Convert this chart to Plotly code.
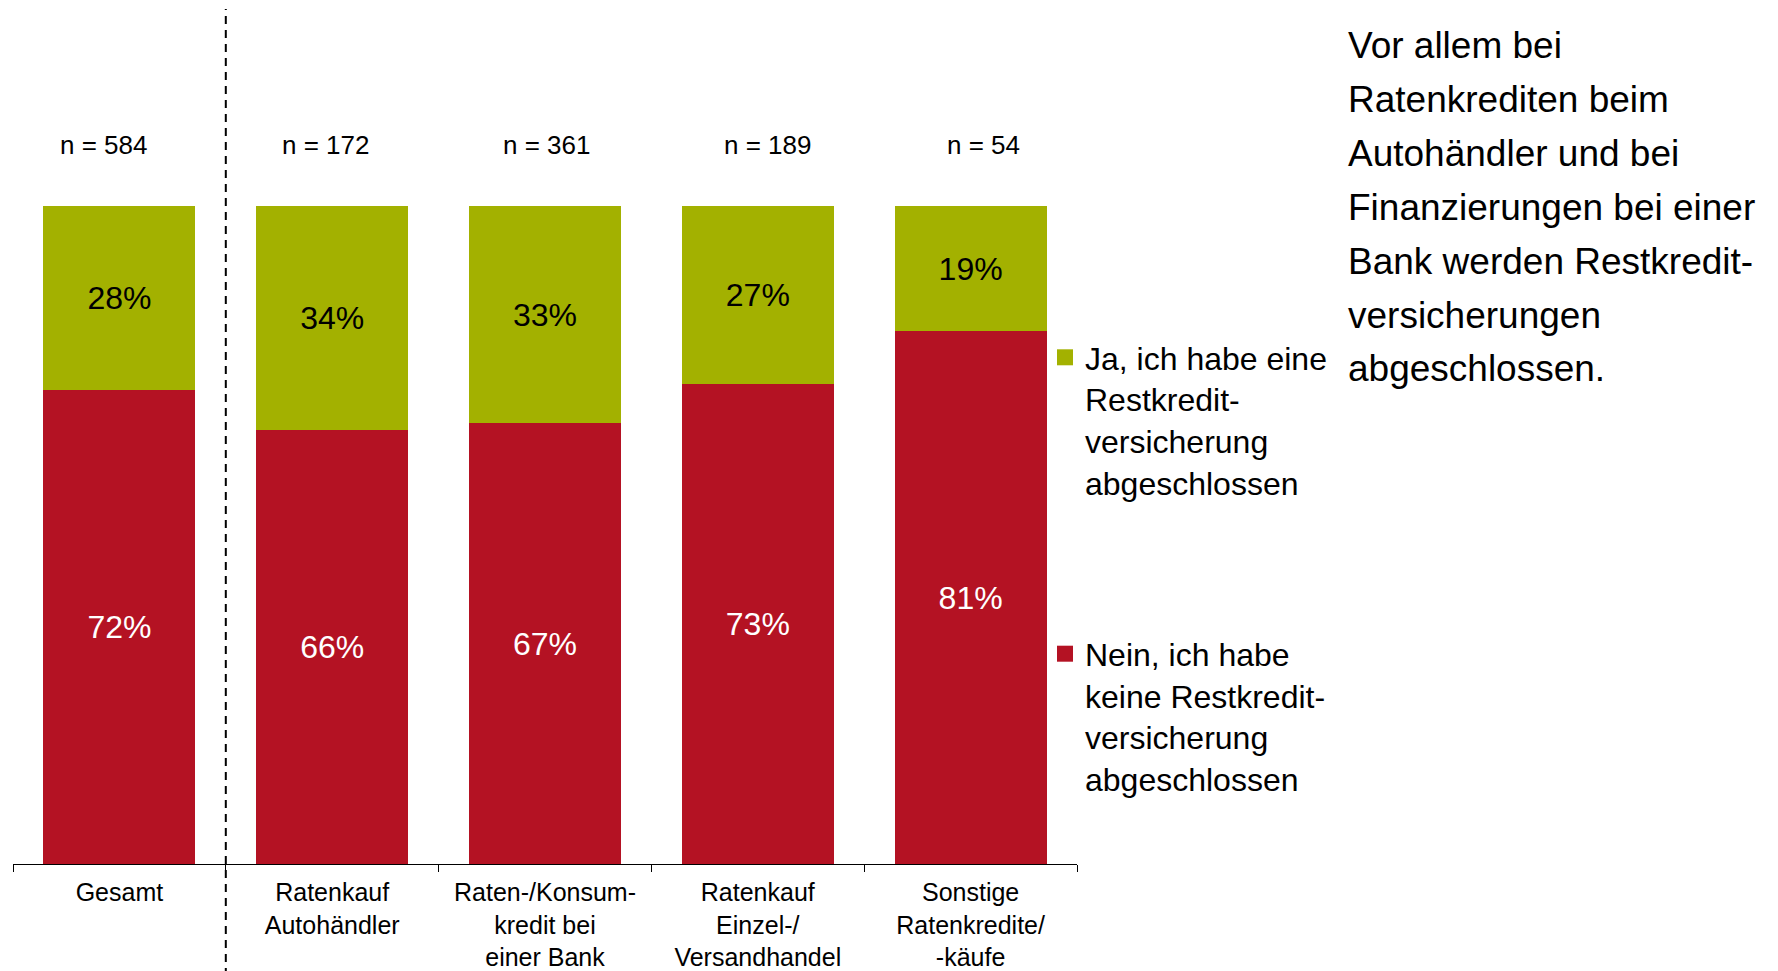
import plotly.graph_objects as go

# ---------------- data ----------------
categories = [
    "Gesamt",
    "Ratenkauf<br>Autohändler",
    "Raten-/Konsum-<br>kredit bei<br>einer Bank",
    "Ratenkauf<br>Einzel-/<br>Versandhandel",
    "Sonstige<br>Ratenkredite/<br>-käufe",
]
sample_sizes = [584, 172, 361, 189, 54]
nein_values = [72, 66, 67, 73, 81]
ja_values = [28, 34, 33, 27, 19]
nein_name = "Nein, ich habe<br>keine Restkredit-<br>versicherung<br>abgeschlossen"
ja_name = "Ja, ich habe eine<br>Restkredit-<br>versicherung<br>abgeschlossen"
note_lines = [
    "Vor allem bei",
    "Ratenkrediten beim",
    "Autohändler und bei",
    "Finanzierungen bei einer",
    "Bank werden Restkredit-",
    "versicherungen",
    "abgeschlossen.",
]

# ---------------- style ----------------
FONT = "Liberation Sans, Arial, Helvetica, sans-serif"
RED = "#B41223"
GREEN = "#A3B100"
W, H = 1778, 971
PAGE_OFF = 8  # default body margin of the html page
# plot area in page pixels: x 13..1077, y 206..864
ML = 13 - PAGE_OFF
MT = 206 - PAGE_OFF
MB = H - (864 - PAGE_OFF)
MR = W - (1077 - PAGE_OFF)
PLOT_W = W - ML - MR
PLOT_H = H - MT - MB
N_LABEL_XSHIFT = [-16, -7, 1, 10, 13]  # the "n =" boxes are not exactly centred on bars


def px_to_paper_x(px):
    return (px - PAGE_OFF - ML) / PLOT_W


def px_to_paper_y(py):
    return (H - MB - (py - PAGE_OFF)) / PLOT_H


fig = go.Figure()
fig.add_trace(go.Bar(
    x=categories, y=nein_values, name=nein_name, showlegend=False,
    marker=dict(color=RED, line=dict(width=0)),
    texttemplate="%{y}%", textposition="inside", insidetextanchor="middle",
    textfont=dict(family=FONT, size=32, color="white"),
    constraintext="none",
))
fig.add_trace(go.Bar(
    x=categories, y=ja_values, name=ja_name, showlegend=False,
    marker=dict(color=GREEN, line=dict(width=0)),
    texttemplate="%{y}%", textposition="inside", insidetextanchor="middle",
    textfont=dict(family=FONT, size=32, color="black"),
    constraintext="none",
))
# legend entries (square swatches)
for name, color, group, rank in [(ja_name, GREEN, "ja", 1), (nein_name, RED, "nein", 2)]:
    fig.add_trace(go.Scatter(
        x=[None], y=[None], mode="markers", name=name,
        legendgroup=group, legendrank=rank, showlegend=True,
        marker=dict(symbol="square", size=16, color=color, line=dict(width=0)),
    ))

annotations = []
for cat, n, dx in zip(categories, sample_sizes, N_LABEL_XSHIFT):
    annotations.append(dict(
        x=cat, xref="x", y=100, yref="y", yshift=61, xshift=dx,
        text=f"n = {n}", showarrow=False, xanchor="center", yanchor="middle",
        font=dict(family=FONT, size=26, color="black"),
    ))

LINE0, LINE_STEP = 46, 53.8
for i, line in enumerate(note_lines):
    annotations.append(dict(
        x=px_to_paper_x(1346), xref="paper",
        y=px_to_paper_y(LINE0 + i * LINE_STEP), yref="paper",
        text=line, showarrow=False, xanchor="left", yanchor="middle",
        font=dict(family=FONT, size=37, color="black"),
    ))

fig.update_layout(
    width=W, height=H,
    margin=dict(l=ML, r=MR, t=MT, b=MB, pad=0, autoexpand=False),
    barmode="stack", bargap=0.286,
    paper_bgcolor="white", plot_bgcolor="white",
    font=dict(family=FONT, color="black"),
    showlegend=True,
    legend=dict(
        x=px_to_paper_x(1045), y=px_to_paper_y(330), xanchor="left", yanchor="top",
        traceorder="grouped", tracegroupgap=127, valign="top",
        font=dict(family=FONT, size=32, color="black"),
        bgcolor="rgba(0,0,0,0)", itemsizing="trace",
    ),
    xaxis=dict(
        type="category", showgrid=False, zeroline=False, automargin=False,
        showline=True, linecolor="black", linewidth=1,
        ticks="outside", ticklen=7, tickcolor="black", tickwidth=1,
        tickson="boundaries", ticklabelstandoff=6,
        tickfont=dict(family=FONT, size=25, color="black"),
        range=[-0.5, 4.5], fixedrange=True,
    ),
    yaxis=dict(visible=False, range=[0, 100], fixedrange=True, automargin=False),
    annotations=annotations,
    shapes=[dict(
        type="line", xref="x", yref="paper",
        x0=0.5, x1=0.5, y0=px_to_paper_y(990), y1=px_to_paper_y(9),
        line=dict(color="black", width=2, dash="8px,6px"),
    )],
)

fig.write_html("out.html")
